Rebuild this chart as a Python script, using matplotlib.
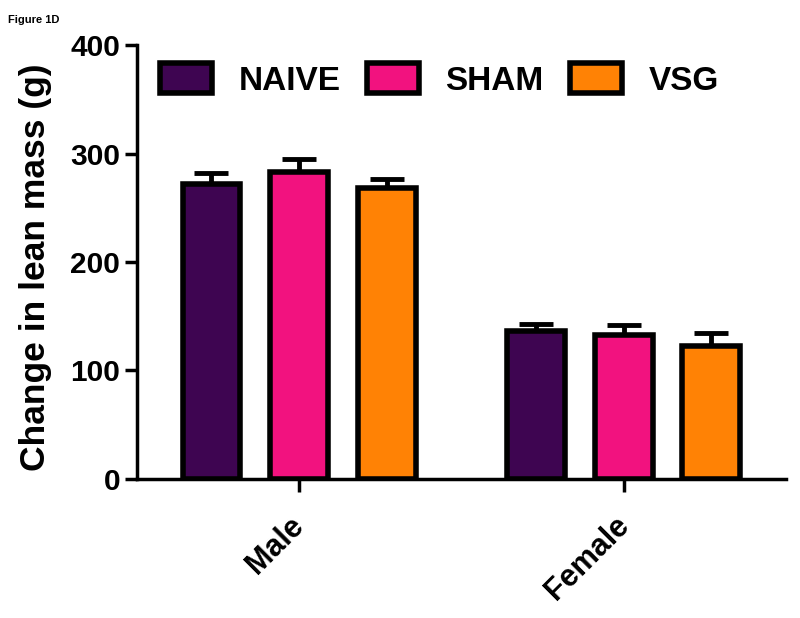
import numpy as np
import matplotlib
matplotlib.use('Agg')
import matplotlib.pyplot as plt
from matplotlib.transforms import ScaledTranslation

plt.rcParams['font.family'] = ['Liberation Sans', 'DejaVu Sans']
plt.rcParams['font.weight'] = 'bold'

# values
groups = ['Male', 'Female']
series = ['NAIVE', 'SHAM', 'VSG']
naive = [272, 136]
naive_err = [10, 7]
sham = [283, 133]
sham_err = [12, 9]
vsg = [268, 123]
vsg_err = [9, 12]
colors = ['#3E0551', '#F2127F', '#FF8205']
y_ticks = [0, 100, 200, 300, 400]

fig = plt.figure(figsize=(8, 6.18), dpi=100)
ax = fig.add_axes([0.171, 0.225, 0.8115, 0.702])

x = np.arange(len(groups))
width = 0.178
step = 0.27
for i, (vals, errs) in enumerate(zip([naive, sham, vsg], [naive_err, sham_err, vsg_err])):
    pos = x + (i - 1) * step
    ax.bar(pos, vals, width, color=colors[i], edgecolor='black', linewidth=4,
           label=series[i], zorder=3)
    ax.errorbar(pos, vals, yerr=[np.zeros(len(errs)), errs], fmt='none',
                ecolor='black', elinewidth=3.5, capsize=12, capthick=3.5, zorder=2)

ax.set_xlim(-0.5, 1.5)
ax.set_ylim(0, 400)
ax.set_yticks(y_ticks)
ax.set_xticks(x)
ax.set_xticklabels(groups, rotation=45, ha='right', rotation_mode='anchor')

for s in ['top', 'right']:
    ax.spines[s].set_visible(False)
for s in ['left', 'bottom']:
    ax.spines[s].set_linewidth(2.5)
ax.tick_params(axis='both', width=2.5, length=9, labelsize=21.5, pad=3)
ax.tick_params(axis='x', labelsize=22, pad=8)
for lab in ax.get_xticklabels() + ax.get_yticklabels():
    lab.set_fontweight('bold')
# nudge rotated category labels down-left like the original
shift = ScaledTranslation(-0.1, -0.08, fig.dpi_scale_trans)
for lab in ax.get_xticklabels():
    lab.set_transform(lab.get_transform() + shift)

ax.set_ylabel('Change in lean mass (g)', fontsize=25.5, fontweight='bold')
ax.yaxis.set_label_coords(-0.131, 0.487)

ax.legend(loc='center left', bbox_to_anchor=(0.2, 1 - 80 / 618), bbox_transform=fig.transFigure,
          ncol=3, frameon=False, prop={'size': 24, 'weight': 'bold'},
          handlelength=1.55, handleheight=1.0, handletextpad=0.8, columnspacing=0.8,
          borderpad=0, borderaxespad=0)

fig.text(0.01, 0.975, 'Figure 1D', fontsize=8, fontweight='bold', va='top')

fig.savefig('out.png', dpi=100)
